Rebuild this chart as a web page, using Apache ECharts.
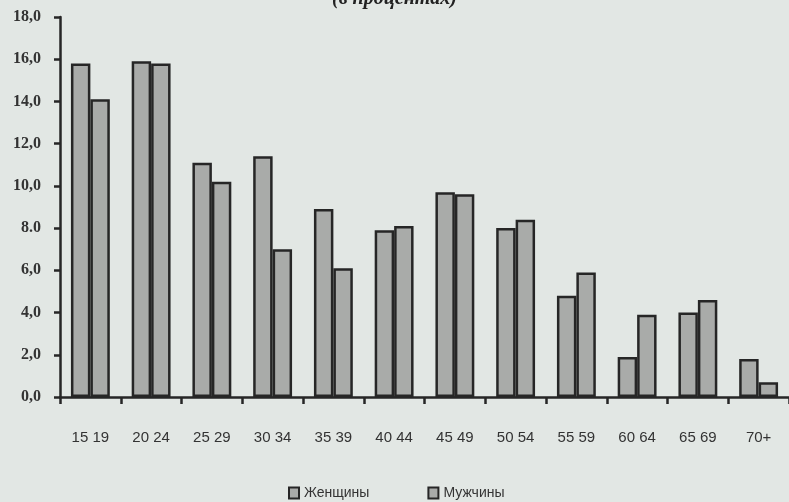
<!DOCTYPE html>
<html>
<head>
<meta charset="utf-8">
<script src="https://cdn.jsdelivr.net/npm/echarts@6/dist/echarts.min.js"></script>
<style>
html,body{margin:0;padding:0;background:#e2e7e4;}
#c{width:789px;height:502px;}
</style>
</head>
<body>
<div id="c"></div>
<script>
var categories = ['15 19','20 24','25 29','30 34','35 39','40 44','45 49','50 54','55 59','60 64','65 69','70+'];
var women = [15.8, 15.9, 11.1, 11.4, 8.9, 7.9, 9.7, 8.0, 4.8, 1.9, 4.0, 1.8];
var men   = [14.1, 15.8, 10.2, 7.0, 6.1, 8.1, 9.6, 8.4, 5.9, 3.9, 4.6, 0.7];
var yTickLabels = {0:'0,0',2:'2,0',4:'4,0',6:'6,0',8:'8.0',10:'10,0',12:'12,0',14:'14,0',16:'16,0',18:'18,0'};
var seriesNames = ['Женщины','Мужчины'];
var titleText = '(в процентах)';

var chart = echarts.init(document.getElementById('c'));
var barStyle = {color:'#a9aba9', borderColor:'#262626', borderWidth:2.5};
chart.setOption({
  backgroundColor:'#e2e7e4',
  animation:false,
  title:{text:titleText, left:'center', top:-16,
    textStyle:{fontFamily:'Liberation Serif', fontStyle:'italic', fontWeight:'bold', fontSize:20, color:'#222'}},
  legend:{bottom:-3, left:283, itemWidth:10, itemHeight:11, itemGap:58, icon:'rect',
    textStyle:{fontFamily:'Liberation Sans', fontSize:14, color:'#333'},
    itemStyle:{borderColor:'#262626', borderWidth:2},
    data:seriesNames},
  grid:{left:60, right:0, top:17, bottom:105, containLabel:false},
  xAxis:{type:'category', data:categories,
    axisLine:{lineStyle:{color:'#262626', width:2.5}},
    axisTick:{show:true, length:7, lineStyle:{color:'#262626', width:2.5}},
    axisLabel:{margin:33, fontFamily:'Liberation Sans', fontSize:15, color:'#333'}},
  yAxis:{type:'value', min:0, max:18, interval:2,
    axisLine:{show:true, lineStyle:{color:'#262626', width:2.5}},
    axisTick:{show:true, length:6, lineStyle:{color:'#262626', width:2.5}},
    splitLine:{show:false},
    axisLabel:{margin:19, fontFamily:'Liberation Serif', fontWeight:'bold', fontSize:16, color:'#333',
      formatter:function(v){return yTickLabels[v];}}},
  series:[
    {name:seriesNames[0], type:'bar', data:women, itemStyle:barStyle, barGap:'0%', barCategoryGap:'36%'},
    {name:seriesNames[1], type:'bar', data:men, itemStyle:barStyle}
  ]
});
</script>
</body>
</html>
